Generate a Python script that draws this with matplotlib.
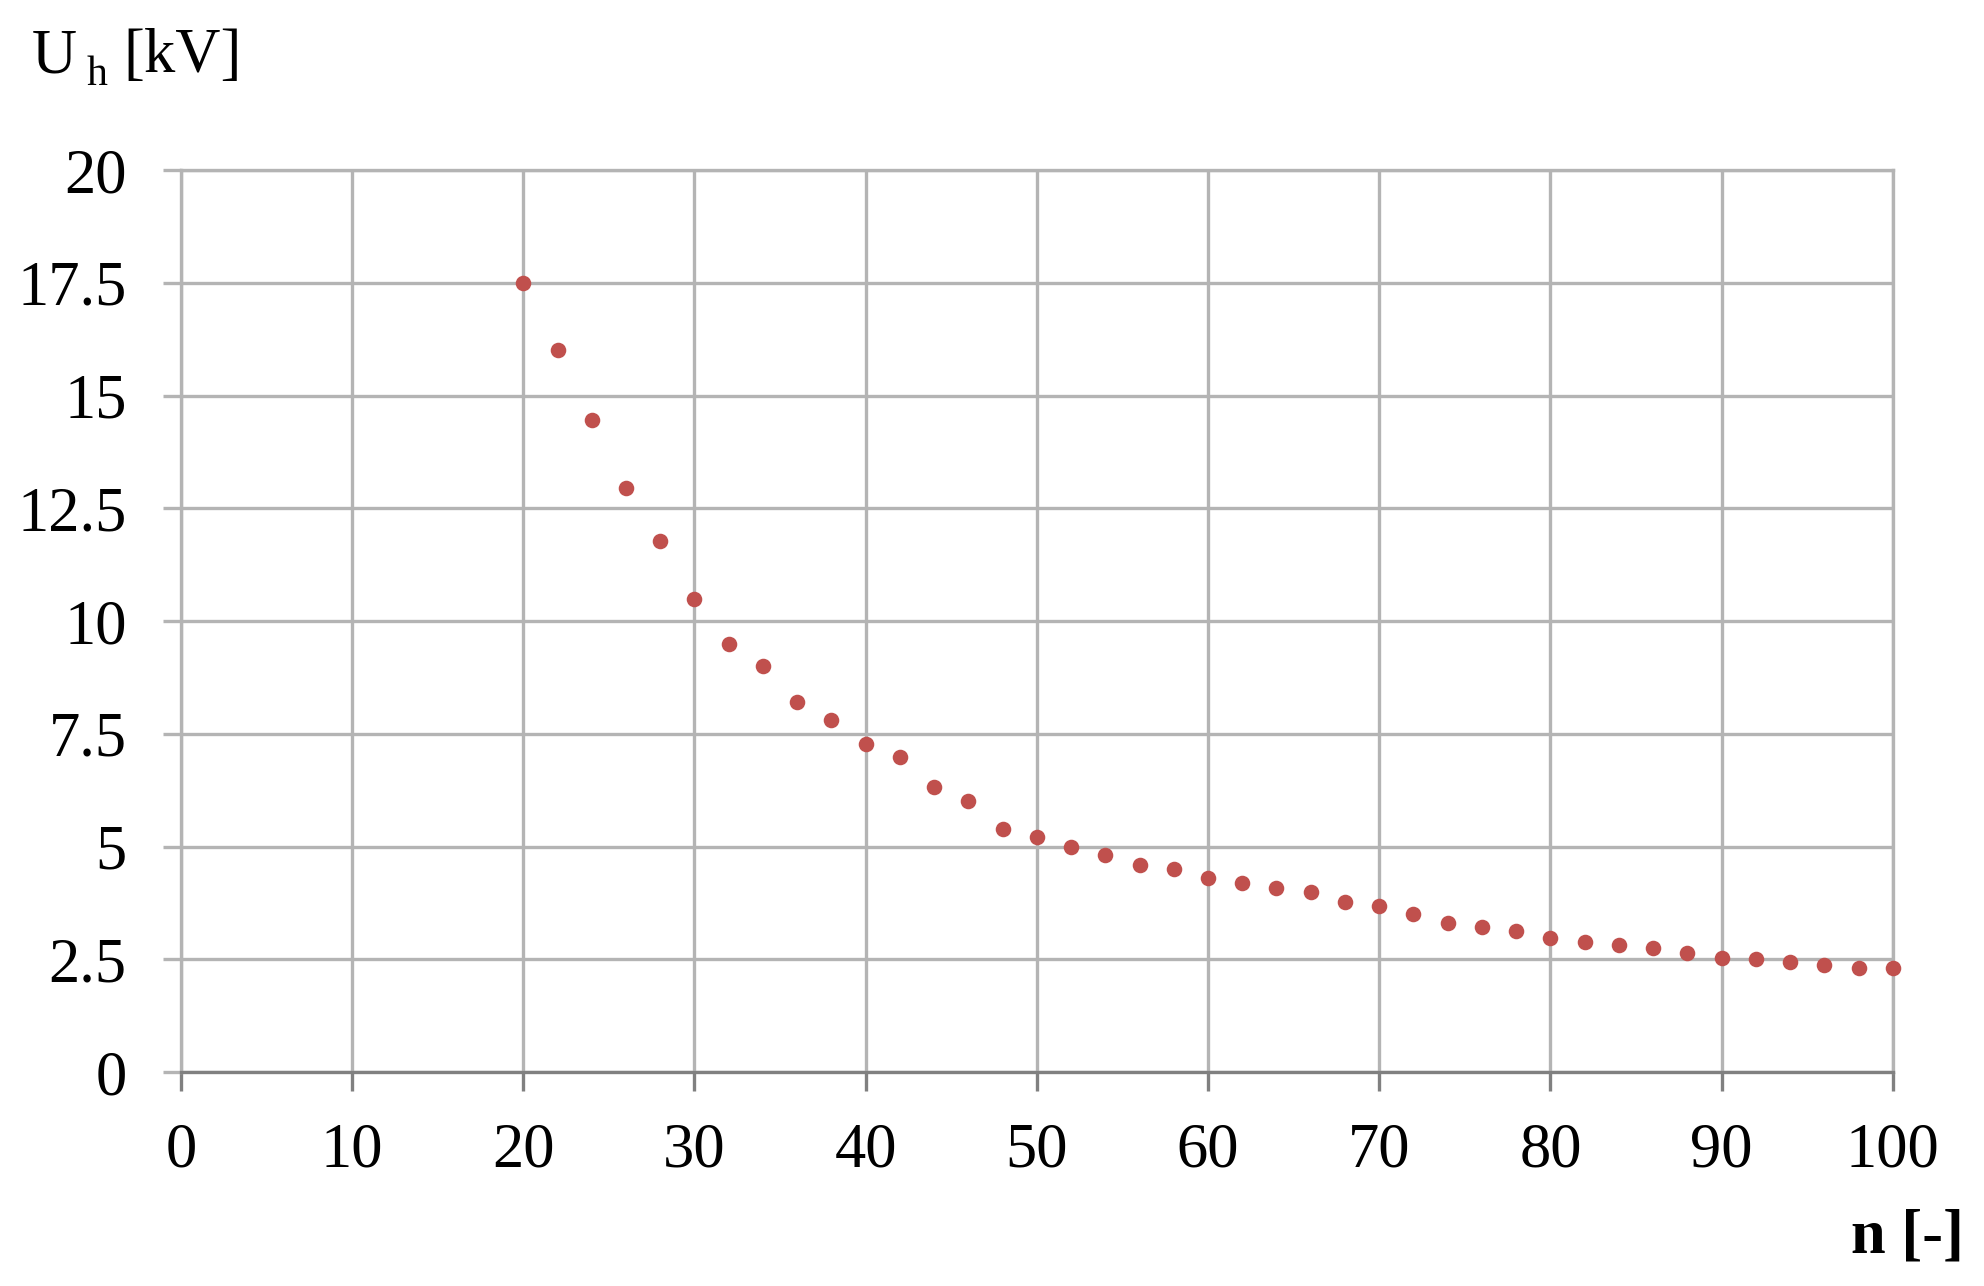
import matplotlib.pyplot as plt
import numpy as np

# data
n = [20, 22, 24, 26, 28, 30, 32, 34, 36, 38, 40, 42, 44, 46, 48, 50, 52, 54, 56, 58,
     60, 62, 64, 66, 68, 70, 72, 74, 76, 78, 80, 82, 84, 86, 88, 90, 92, 94, 96, 98, 100]
u_h = [17.5, 16.0, 14.45, 12.95, 11.77, 10.49, 9.5, 9.0, 8.2, 7.8, 7.27, 6.99, 6.32, 6.0,
       5.38, 5.2, 4.98, 4.81, 4.58, 4.5, 4.31, 4.18, 4.09, 4.0, 3.78, 3.69, 3.51, 3.3,
       3.21, 3.12, 2.98, 2.89, 2.81, 2.76, 2.63, 2.53, 2.5, 2.45, 2.37, 2.31, 2.31]
x_ticks = [0, 10, 20, 30, 40, 50, 60, 70, 80, 90, 100]
y_ticks = [0, 2.5, 5, 7.5, 10, 12.5, 15, 17.5, 20]
y_labels = ["0", "2.5", "5", "7.5", "10", "12.5", "15", "17.5", "20"]

plt.rcParams["font.family"] = ["Liberation Serif", "DejaVu Serif"]

fig = plt.figure(figsize=(9.92, 6.43), dpi=200)
ax = fig.add_axes([0.0912, 0.1664, 0.8628, 0.7014])

grid_c = "#b4b4b4"
ax.plot(n, u_h, "o", color="#c0504d", markersize=5.6, markeredgewidth=0,
        clip_on=False, zorder=3)

ax.set_xlim(0, 100)
ax.set_ylim(0, 20)
ax.set_xticks(x_ticks)
ax.set_yticks(y_ticks)
ax.set_yticklabels(y_labels)
ax.grid(True, color=grid_c, linewidth=1.2)
ax.set_axisbelow(True)

for side in ["left", "top", "right"]:
    ax.spines[side].set_color(grid_c)
    ax.spines[side].set_linewidth(1.2)
ax.spines["bottom"].set_color("#808080")
ax.spines["bottom"].set_linewidth(1.2)

ax.tick_params(axis="x", direction="out", length=7, width=1.2, color="#808080",
               pad=11, labelsize=22.5)
ax.tick_params(axis="y", direction="out", length=6.5, width=1.2, color=grid_c,
               pad=13, labelsize=22.5)

# axis titles
fig.text(0.0161, 0.944, "U", fontsize=22.5, va="baseline", ha="left")
fig.text(0.0438, 0.934, "h", fontsize=15, va="baseline", ha="left")
fig.text(0.062, 0.944, "[kV]", fontsize=22.5, va="baseline", ha="left")
fig.text(0.990, 0.0257, "n [-]", fontsize=22.5, fontweight="bold", va="baseline", ha="right")

fig.savefig("out.png", dpi=200, facecolor="white")
